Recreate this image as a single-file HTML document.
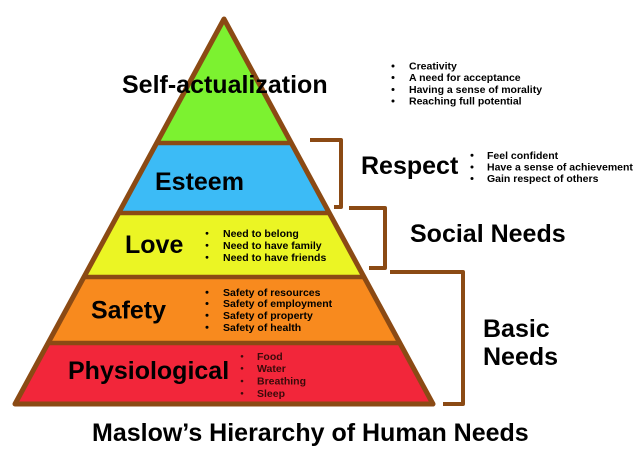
<!DOCTYPE html>
<html>
<head>
<meta charset="utf-8">
<style>
  html, body { margin: 0; padding: 0; background: #ffffff; }
  svg { display: block; }
  text { font-family: "Liberation Sans", Arial, sans-serif; font-weight: bold; fill: #000; }
  .big { font-size: 25px; }
  .sm { font-size: 10.5px; }
</style>
</head>
<body>
<svg width="640" height="457" viewBox="0 0 640 457" xmlns="http://www.w3.org/2000/svg">
  <rect x="0" y="0" width="640" height="457" fill="#ffffff"/>

  <!-- pyramid layers -->
  <polygon points="224,19 291.3,143 156.7,143" fill="#7cf230"/>
  <polygon points="156.7,143 291.3,143 329.3,213 118.7,213" fill="#3cbbf6"/>
  <polygon points="118.7,213 329.3,213 364.1,277 83.9,277" fill="#ebf524"/>
  <polygon points="83.9,277 364.1,277 399.9,343 48.1,343" fill="#f88a1e"/>
  <polygon points="48.1,343 399.9,343 433,404 15,404" fill="#f2263a"/>

  <!-- divider lines -->
  <g stroke="#8b4a14" stroke-width="4.5" fill="none">
    <line x1="156.7" y1="143" x2="291.3" y2="143"/>
    <line x1="118.7" y1="213" x2="329.3" y2="213"/>
    <line x1="83.9" y1="277" x2="364.1" y2="277"/>
    <line x1="48.1" y1="343" x2="399.9" y2="343"/>
  </g>
  <!-- outline -->
  <polygon points="224,19 433,404 15,404" fill="none" stroke="#8b4a14" stroke-width="5" stroke-linejoin="round"/>

  <!-- brackets -->
  <g stroke="#8b4a14" stroke-width="4" fill="none" stroke-linejoin="round">
    <path d="M310,140 L341,140 L341,207 L334,207"/>
    <path d="M349,208 L385,208 L385,268 L369,268"/>
    <path d="M390,272 L463,272 L463,404 L443,404"/>
  </g>

  <!-- big labels -->
  <text class="big" x="122" y="93">Self-actualization</text>
  <text class="big" x="155" y="190">Esteem</text>
  <text class="big" x="125" y="253">Love</text>
  <text class="big" x="91" y="318.5">Safety</text>
  <text class="big" x="68" y="379">Physiological</text>
  <text class="big" x="361" y="174">Respect</text>
  <text class="big" x="410" y="242">Social Needs</text>
  <text class="big" x="483" y="337">Basic</text>
  <text class="big" x="483" y="365">Needs</text>
  <text class="big" x="92" y="441">Maslow’s Hierarchy of Human Needs</text>

  <!-- top list -->
  <g fill="#000">
    <circle cx="393" cy="66" r="1.5"/>
    <circle cx="393" cy="77.5" r="1.5"/>
    <circle cx="393" cy="89.5" r="1.5"/>
    <circle cx="393" cy="101" r="1.5"/>
  </g>
  <text class="sm" x="409" y="69.5">Creativity</text>
  <text class="sm" x="409" y="81">A need for acceptance</text>
  <text class="sm" x="409" y="93">Having a sense of morality</text>
  <text class="sm" x="409" y="104.7">Reaching full potential</text>

  <!-- respect list -->
  <g fill="#000">
    <circle cx="472" cy="155.3" r="1.5"/>
    <circle cx="472" cy="167" r="1.5"/>
    <circle cx="472" cy="178.5" r="1.5"/>
  </g>
  <text class="sm" x="487" y="158.8">Feel confident</text>
  <text class="sm" x="487" y="170.5">Have a sense of achievement</text>
  <text class="sm" x="487" y="182">Gain respect of others</text>

  <!-- love list -->
  <g fill="#000">
    <circle cx="207" cy="233.3" r="1.4"/>
    <circle cx="207" cy="245.3" r="1.4"/>
    <circle cx="207" cy="257.3" r="1.4"/>
  </g>
  <text class="sm" x="223" y="236.8">Need to belong</text>
  <text class="sm" x="223" y="248.8">Need to have family</text>
  <text class="sm" x="223" y="260.8">Need to have friends</text>

  <!-- safety list -->
  <g fill="#000">
    <circle cx="207" cy="292.3" r="1.5"/>
    <circle cx="207" cy="303.5" r="1.5"/>
    <circle cx="207" cy="315.3" r="1.5"/>
    <circle cx="207" cy="327.3" r="1.5"/>
  </g>
  <text class="sm" x="223" y="295.8">Safety of resources</text>
  <text class="sm" x="223" y="307">Safety of employment</text>
  <text class="sm" x="223" y="318.8">Safety of property</text>
  <text class="sm" x="223" y="330.8">Safety of health</text>

  <!-- physiological list -->
  <g fill="#3a0a0a">
    <circle cx="242" cy="356.3" r="1.3"/>
    <circle cx="242" cy="368.3" r="1.3"/>
    <circle cx="242" cy="381" r="1.3"/>
    <circle cx="242" cy="393.3" r="1.3"/>
  </g>
  <g style="fill:#3a0a0a">
    <text class="sm" x="257" y="359.8" style="fill:#3a0a0a">Food</text>
    <text class="sm" x="257" y="371.8" style="fill:#3a0a0a">Water</text>
    <text class="sm" x="257" y="384.5" style="fill:#3a0a0a">Breathing</text>
    <text class="sm" x="257" y="396.8" style="fill:#3a0a0a">Sleep</text>
  </g>
</svg>
</body>
</html>
